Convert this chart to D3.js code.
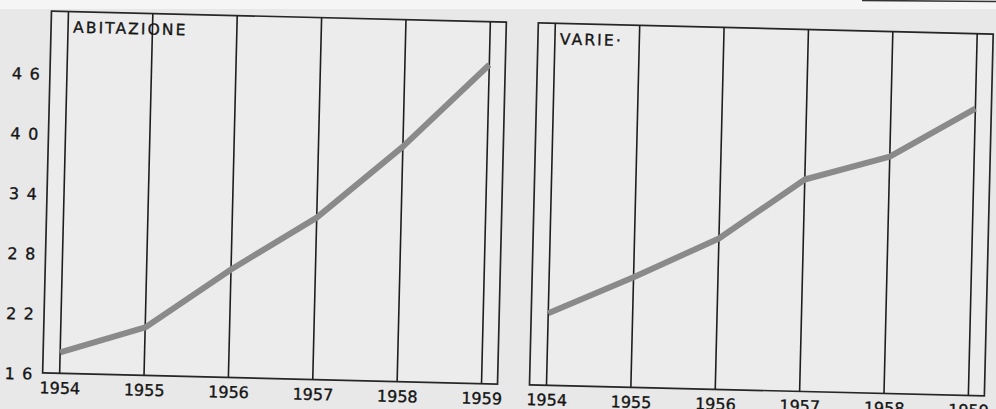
<!DOCTYPE html>
<html>
<head>
<meta charset="utf-8">
<script src="https://cdn.jsdelivr.net/npm/d3@7"></script>
<style>
  html, body { margin: 0; padding: 0; background: #e9e9e9; }
  svg { display: block; }
  text { font-family: "DejaVu Sans", sans-serif; fill: #151515; }
</style>
</head>
<body>
<svg id="chart" width="996" height="409"></svg>
<script>
// Years on the horizontal axis
const years = [1954, 1955, 1956, 1957, 1958, 1959];
// Panel titles
const titles = ["ABITAZIONE", "VARIE·"];
// Index values per panel
const abitazione = [18.1, 20.8, 26.8, 32.2, 39.5, 47.9];
const varie = [23.2, 27.0, 31.1, 37.2, 39.7, 44.7];
// Vertical axis tick values
const yTicks = [16, 22, 28, 34, 40, 46];

const series = [abitazione, varie];

const W = 996, H = 409;
const svg = d3.select("#chart");

svg.append("rect").attr("width", W).attr("height", H).attr("fill", "#e8e8e8");
svg.append("rect").attr("width", W).attr("height", 9).attr("fill", "#f5f5f5");

// bottom edge of the neighbouring panel above
svg.append("line")
  .attr("x1", 862).attr("y1", 0.5).attr("x2", 996).attr("y2", 1.5)
  .attr("stroke", "#333").attr("stroke-width", 1.6);

// the printed page sits slightly askew
const page = svg.append("g").attr("transform", "rotate(1.4, 498, 200)");

const panelW = 455, panelTop = 22, panelBottom = 384;
const panelLeft = [47, 534];

const y = d3.scaleLinear().domain([16, 46]).range([384, 84]);

const inkText = sel => sel
  .attr("font-family", "DejaVu Sans")
  .attr("fill", "#151515")
  .attr("stroke", "#151515")
  .attr("stroke-width", 0.35);

series.forEach((vals, i) => {
  const x0 = panelLeft[i];
  const x = d3.scalePoint().domain(years).range([x0 + 17, x0 + panelW - 16]);
  const g = page.append("g");

  g.append("rect")
    .attr("x", x0).attr("y", panelTop)
    .attr("width", panelW).attr("height", panelBottom - panelTop)
    .attr("fill", "#ececec")
    .attr("stroke", "#262626").attr("stroke-width", 1.7);

  // vertical year rules
  g.selectAll(".rule").data(years).join("line")
    .attr("x1", d => x(d)).attr("x2", d => x(d))
    .attr("y1", panelTop).attr("y2", panelBottom)
    .attr("stroke", "#1e1e1e").attr("stroke-width", 1.6);

  // year labels
  const xAxis = d3.axisBottom(x).tickSize(0).tickPadding(9).tickFormat(d3.format("d"));
  const ax = g.append("g").attr("transform", `translate(0,${panelBottom})`).call(xAxis);
  ax.select(".domain").remove();
  ax.selectAll("text").attr("font-size", 16).call(inkText);

  // series line
  const line = d3.line().x((d, j) => x(years[j])).y(d => y(d));
  g.append("path").datum(vals)
    .attr("d", line)
    .attr("fill", "none")
    .attr("stroke", "#8a8a8a")
    .attr("stroke-width", 6)
    .attr("stroke-linejoin", "round");

  // panel title
  g.append("text")
    .attr("x", x(years[0]) + 5).attr("y", 43)
    .attr("font-size", 15.5)
    .attr("letter-spacing", 2.1)
    .call(inkText)
    .text(titles[i]);

  // value scale on the left panel only
  if (i === 0) {
    const yAxis = d3.axisLeft(y).tickValues(yTicks).tickSize(0).tickPadding(9)
      .tickFormat(d => String(d).split("").join(" "));
    const ay = g.append("g").attr("transform", `translate(${x0},0)`).call(yAxis);
    ay.select(".domain").remove();
    ay.selectAll("text").attr("font-size", 16).attr("letter-spacing", 1.2)
      .attr("dy", "0.4em").call(inkText);
  }
});
</script>
</body>
</html>
